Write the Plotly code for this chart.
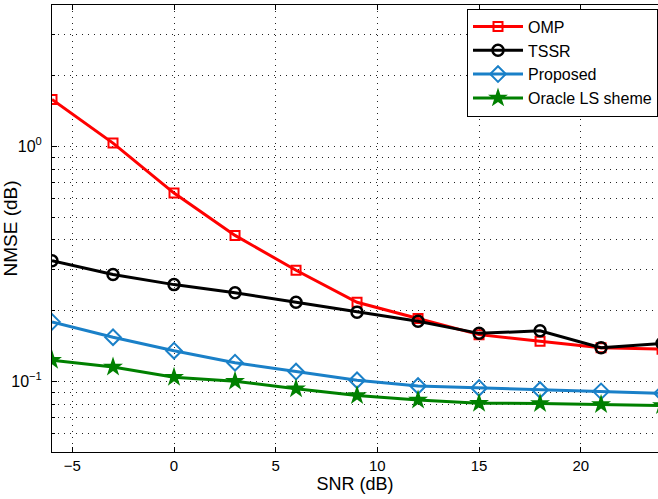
import plotly.graph_objects as go

# SNR sweep (dB)
snr = [-6, -3, 0, 3, 6, 9, 12, 15, 18, 21, 24]

# NMSE for each estimator
nmse_omp = [1.585, 1.033, 0.633, 0.418, 0.297, 0.217, 0.185, 0.158, 0.148, 0.139, 0.137]
nmse_tssr = [0.326, 0.285, 0.258, 0.238, 0.217, 0.197, 0.180, 0.160, 0.164, 0.139, 0.145]
nmse_proposed = [0.179, 0.154, 0.135, 0.120, 0.110, 0.101, 0.0955, 0.0937, 0.0918, 0.0906, 0.0889]
nmse_oracle = [0.123, 0.115, 0.104, 0.100, 0.093, 0.087, 0.0833, 0.0807, 0.0804, 0.0796, 0.0788]

x_ticks = [-5, 0, 5, 10, 15, 20]
y_major = [0.1, 1]
y_major_text = ["10<sup>\u22121</sup>", "10<sup>0</sup>"]
y_minor = [0.05, 0.06, 0.07, 0.08, 0.09, 0.2, 0.3, 0.4, 0.5, 0.6, 0.7, 0.8, 0.9, 2, 3, 4]

FONT = "Liberation Sans, Arial, Helvetica, sans-serif"
DOTS = "1px,5px"

series = [
    ("OMP", nmse_omp, "#ff0000", "square-open", 9, 2),
    ("TSSR", nmse_tssr, "#000000", "circle-open", 11, 2.5),
    ("Proposed", nmse_proposed, "#1a80c8", "diamond-open", 12, 2),
    ("Oracle LS sheme", nmse_oracle, "#008000", "star", 15, 0),
]

fig = go.Figure()
for name, vals, color, symbol, size, mlw in series:
    fig.add_trace(go.Scatter(
        x=snr, y=vals, name=name, mode="lines+markers",
        line=dict(color=color, width=3),
        marker=dict(symbol=symbol, size=size, color=color,
                    line=dict(color=color, width=mlw)),
    ))

grid = dict(showgrid=True, gridcolor="#222222", griddash=DOTS, gridwidth=1)

fig.update_layout(
    width=658, height=499,
    margin=dict(l=52, r=0, t=5, b=47),
    paper_bgcolor="white", plot_bgcolor="white",
    font=dict(family=FONT, size=15, color="black"),
    showlegend=True,
    legend=dict(
        x=1, y=0.992, xanchor="right", yanchor="top",
        bgcolor="white", bordercolor="black", borderwidth=1,
        font=dict(family=FONT, size=16, color="black"),
        itemwidth=50, tracegroupgap=0,
    ),
    xaxis=dict(
        range=[-6, 23.8], tickvals=x_ticks, automargin=False,
        ticks="inside", ticklen=5, tickcolor="black",
        showline=True, linecolor="black", linewidth=1, mirror="ticks",
        zeroline=False,
        title=dict(text="SNR (dB)", standoff=4, font=dict(size=18)),
        tickfont=dict(size=15),
        **grid,
    ),
    yaxis=dict(
        type="log", range=[-1.30103, 0.60206], automargin=False,
        tickvals=y_major, ticktext=y_major_text,
        ticks="inside", ticklen=5, tickcolor="black",
        showline=True, linecolor="black", linewidth=1, mirror=False,
        zeroline=False, ticklabelstandoff=6,
        title=dict(text="NMSE (dB)", standoff=0, font=dict(size=19)),
        tickfont=dict(size=16),
        minor=dict(tickvals=y_minor, ticks="inside", ticklen=3, tickcolor="black",
                   showgrid=True, gridcolor="#222222", griddash=DOTS, gridwidth=1),
        **grid,
    ),
)

fig.write_html("out.html")
